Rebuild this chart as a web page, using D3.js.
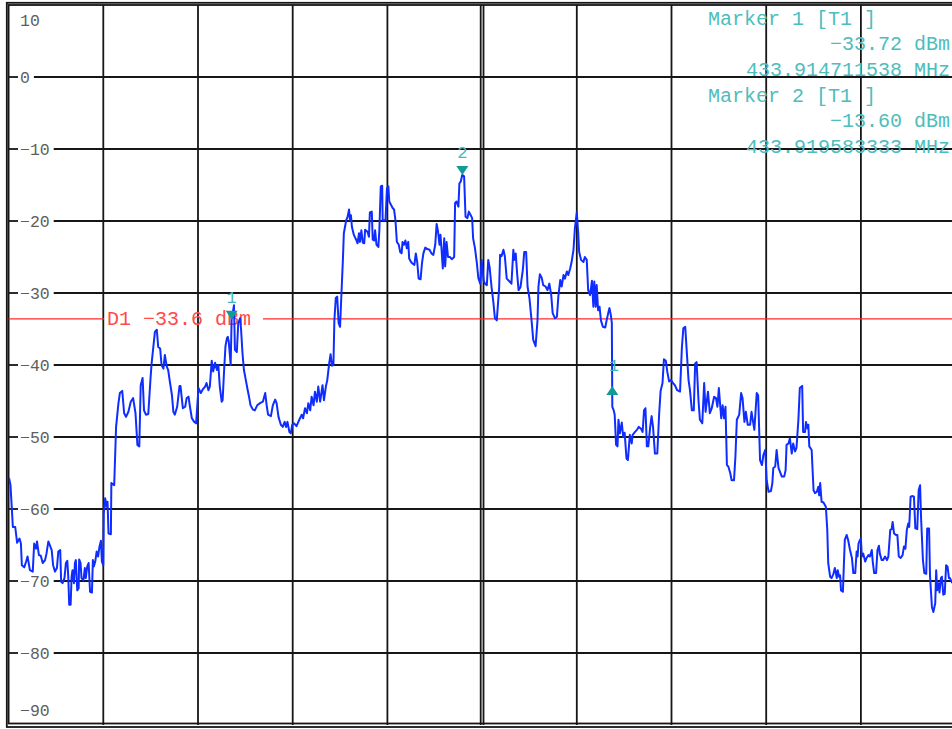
<!DOCTYPE html>
<html>
<head>
<meta charset="utf-8">
<script src="https://cdn.jsdelivr.net/npm/d3@7"></script>
<style>
  html, body { margin: 0; padding: 0; background: #fff; }
  svg { display: block; }
  .grid { stroke: #161616; stroke-width: 1.8; fill: none; }
  .ylabel { font-family: "Liberation Mono", monospace; font-size: 16.5px; fill: #5e5e5e; }
  .mtext { font-family: "Liberation Mono", monospace; font-size: 20px; fill: #4dbdbd; }
  .mnum { font-family: "Liberation Mono", monospace; font-size: 17px; fill: #45b8b8; }
  .dline { stroke: #ff2a2a; stroke-width: 1.4; }
  .dtext { font-family: "Liberation Mono", monospace; font-size: 20px; fill: #ff4a4a; }
  .trace { fill: none; stroke: #0f2dff; stroke-width: 2; stroke-linejoin: round; }
</style>
</head>
<body>
<div id="chart"></div>
<script>
// sweep: 433.910 MHz .. 433.930 MHz, frequencies below are kHz above start
const startMHz = 433.91;
const spanKHz = [0, 20];
const levelRange = [-90, 10];
const xGridKHz = [2, 4, 6, 8, 12, 14, 16, 18];
const centerKHz = 10;
const yTickValues = [10, 0, -10, -20, -30, -40, -50, -60, -70, -80, -90];

const freqKHz = [
  0.01, 0.04, 0.09, 0.14, 0.18, 0.23, 0.26, 0.28, 0.33, 0.37, 0.40, 0.45, 0.51, 0.54, 0.58, 0.60,
  0.64, 0.68, 0.72, 0.77, 0.80, 0.84, 0.87, 0.91, 0.94, 0.98, 1.02, 1.05, 1.09, 1.11, 1.14, 1.18,
  1.21, 1.24, 1.26, 1.28, 1.31, 1.33, 1.35, 1.38, 1.40, 1.42, 1.45, 1.48, 1.49, 1.52, 1.54, 1.58,
  1.61, 1.63, 1.66, 1.69, 1.72, 1.76, 1.78, 1.80, 1.83, 1.86, 1.89, 1.92, 1.95, 1.97, 2.00, 2.01,
  2.04, 2.07, 2.09, 2.11, 2.16, 2.17, 2.23, 2.27, 2.32, 2.35, 2.40, 2.44, 2.48, 2.53, 2.58, 2.63,
  2.68, 2.72, 2.76, 2.79, 2.83, 2.86, 2.90, 2.95, 3.00, 3.02, 3.09, 3.13, 3.16, 3.20, 3.23, 3.27,
  3.30, 3.34, 3.37, 3.41, 3.45, 3.48, 3.51, 3.56, 3.61, 3.63, 3.68, 3.73, 3.76, 3.80, 3.83, 3.87,
  3.92, 3.96, 4.01, 4.06, 4.10, 4.15, 4.18, 4.22, 4.25, 4.29, 4.32, 4.36, 4.40, 4.43, 4.46, 4.50,
  4.52, 4.55, 4.58, 4.61, 4.63, 4.65, 4.69, 4.71, 4.76, 4.78, 4.82, 4.85, 4.89, 4.91, 4.94, 4.97,
  5.01, 5.05, 5.08, 5.11, 5.16, 5.20, 5.25, 5.31, 5.37, 5.42, 5.45, 5.48, 5.54, 5.58, 5.63, 5.66,
  5.70, 5.75, 5.79, 5.83, 5.86, 5.89, 5.93, 5.96, 5.99, 6.03, 6.08, 6.14, 6.19, 6.22, 6.26, 6.30,
  6.33, 6.37, 6.40, 6.44, 6.47, 6.51, 6.54, 6.58, 6.63, 6.66, 6.70, 6.73, 6.77, 6.80, 6.83, 6.86,
  6.88, 6.91, 6.94, 6.97, 7.00, 7.03, 7.06, 7.08, 7.13, 7.16, 7.19, 7.21, 7.23, 7.25, 7.29, 7.34,
  7.37, 7.40, 7.42, 7.45, 7.48, 7.51, 7.53, 7.58, 7.61, 7.63, 7.67, 7.69, 7.72, 7.74, 7.77, 7.81,
  7.83, 7.86, 7.89, 7.90, 7.93, 7.96, 7.99, 8.02, 8.04, 8.08, 8.11, 8.14, 8.17, 8.20, 8.24, 8.27,
  8.30, 8.32, 8.35, 8.38, 8.41, 8.44, 8.46, 8.50, 8.53, 8.57, 8.60, 8.63, 8.66, 8.70, 8.73, 8.76,
  8.80, 8.84, 8.89, 8.93, 8.97, 9.01, 9.04, 9.07, 9.10, 9.12, 9.14, 9.17, 9.20, 9.22, 9.25, 9.28,
  9.32, 9.36, 9.41, 9.43, 9.46, 9.50, 9.52, 9.55, 9.58, 9.62, 9.65, 9.69, 9.72, 9.76, 9.79, 9.81,
  9.85, 9.89, 9.92, 9.96, 9.99, 10.03, 10.06, 10.10, 10.13, 10.16, 10.20, 10.24, 10.27, 10.31, 10.36, 10.38,
  10.41, 10.45, 10.48, 10.52, 10.58, 10.62, 10.66, 10.68, 10.71, 10.74, 10.77, 10.81, 10.86, 10.89, 10.93, 10.96,
  11.00, 11.05, 11.08, 11.13, 11.17, 11.19, 11.22, 11.26, 11.29, 11.34, 11.38, 11.42, 11.46, 11.49, 11.54, 11.58,
  11.61, 11.65, 11.68, 11.72, 11.75, 11.79, 11.82, 11.86, 11.89, 11.93, 11.96, 12.00, 12.03, 12.05, 12.09, 12.14,
  12.17, 12.21, 12.24, 12.28, 12.32, 12.35, 12.37, 12.40, 12.42, 12.45, 12.48, 12.51, 12.55, 12.60, 12.63, 12.67,
  12.69, 12.72, 12.74, 12.75, 12.78, 12.80, 12.83, 12.86, 12.88, 12.91, 12.95, 12.98, 13.01, 13.05, 13.08, 13.12,
  13.16, 13.18, 13.23, 13.27, 13.31, 13.36, 13.39, 13.42, 13.45, 13.48, 13.51, 13.55, 13.58, 13.61, 13.65, 13.70,
  13.74, 13.77, 13.81, 13.84, 13.88, 13.91, 13.95, 13.99, 14.03, 14.07, 14.12, 14.18, 14.22, 14.25, 14.29, 14.32,
  14.36, 14.39, 14.43, 14.47, 14.50, 14.53, 14.57, 14.60, 14.65, 14.69, 14.72, 14.77, 14.81, 14.85, 14.90, 14.94,
  14.97, 15.00, 15.05, 15.08, 15.11, 15.14, 15.17, 15.20, 15.24, 15.27, 15.32, 15.35, 15.38, 15.43, 15.47, 15.50,
  15.54, 15.57, 15.61, 15.66, 15.69, 15.75, 15.80, 15.83, 15.87, 15.91, 15.94, 15.98, 16.01, 16.05, 16.10, 16.13,
  16.15, 16.19, 16.22, 16.26, 16.29, 16.33, 16.38, 16.41, 16.43, 16.47, 16.50, 16.54, 16.57, 16.61, 16.64, 16.68,
  16.71, 16.76, 16.78, 16.82, 16.84, 16.87, 16.89, 16.91, 16.96, 17.00, 17.03, 17.07, 17.10, 17.12, 17.14, 17.17,
  17.21, 17.26, 17.29, 17.31, 17.35, 17.38, 17.42, 17.45, 17.49, 17.51, 17.54, 17.56, 17.58, 17.62, 17.63, 17.66,
  17.70, 17.73, 17.77, 17.81, 17.84, 17.88, 17.91, 17.93, 17.95, 17.98, 18.00, 18.02, 18.05, 18.09, 18.12, 18.16,
  18.19, 18.23, 18.25, 18.28, 18.32, 18.35, 18.38, 18.40, 18.44, 18.47, 18.51, 18.55, 18.58, 18.62, 18.65, 18.67,
  18.70, 18.74, 18.77, 18.80, 18.84, 18.88, 18.91, 18.94, 18.97, 19.00, 19.02, 19.05, 19.09, 19.12, 19.15, 19.19,
  19.22, 19.25, 19.27, 19.31, 19.34, 19.38, 19.40, 19.44, 19.46, 19.50, 19.53, 19.57, 19.59, 19.61, 19.64, 19.66,
  19.69, 19.71, 19.74, 19.77, 19.80, 19.83, 19.86, 19.88, 19.93
];

const levelDbm = [
  -55.7, -56.7, -62.5, -62.5, -64.7, -64.1, -64.8, -67.8, -68.1, -67.3, -66.6, -68.5, -68.7, -64.8, -65.5, -64.5,
  -66.4, -66.5, -67.5, -67.1, -66.2, -64.5, -65.0, -65.7, -67.8, -68.7, -68.2, -65.9, -65.7, -70.1, -70.3, -69.6,
  -67.5, -67.2, -69.4, -73.3, -73.3, -69.4, -68.5, -70.3, -67.5, -67.1, -71.3, -71.0, -67.0, -67.5, -69.6, -69.9,
  -68.2, -69.6, -68.0, -67.5, -71.5, -71.6, -67.1, -68.0, -67.3, -65.9, -66.6, -65.2, -64.4, -67.3, -67.8, -60.6,
  -58.5, -59.7, -59.0, -63.4, -63.5, -56.4, -56.7, -48.6, -45.3, -43.9, -43.6, -46.7, -47.2, -46.5, -45.1, -44.6,
  -46.7, -51.1, -51.3, -42.8, -41.8, -46.3, -46.9, -46.8, -41.6, -39.8, -35.4, -35.1, -37.5, -37.7, -40.0, -40.5,
  -38.6, -40.2, -40.7, -42.5, -44.2, -46.5, -46.9, -45.8, -42.9, -42.9, -46.0, -45.8, -44.6, -44.4, -45.8, -47.4,
  -47.9, -48.1, -43.2, -43.9, -43.4, -43.0, -42.5, -43.5, -43.0, -39.4, -40.9, -39.7, -40.7, -40.0, -43.0, -45.1,
  -44.9, -40.9, -37.4, -36.3, -36.1, -36.8, -40.0, -33.7, -31.7, -37.9, -38.2, -34.2, -33.5, -35.1, -38.4, -40.7,
  -42.1, -43.5, -44.5, -45.6, -46.2, -46.3, -45.6, -45.3, -45.1, -43.9, -45.6, -46.9, -47.1, -45.6, -44.8, -45.3,
  -47.2, -48.3, -48.6, -47.9, -48.6, -47.9, -49.3, -49.5, -48.3, -48.1, -48.5, -47.6, -46.9, -47.4, -46.0, -46.7,
  -45.3, -46.3, -44.4, -45.6, -43.7, -45.1, -43.0, -45.1, -42.8, -44.9, -43.0, -42.1, -39.8, -38.5, -40.1, -40.0,
  -33.8, -30.7, -30.5, -34.2, -34.7, -30.0, -25.4, -21.7, -19.9, -19.4, -18.4, -19.9, -19.2, -20.8, -21.9, -22.6,
  -23.1, -21.7, -22.9, -21.3, -23.0, -23.1, -21.2, -21.5, -22.2, -18.8, -18.7, -22.6, -22.7, -21.3, -23.3, -23.6,
  -21.3, -15.2, -15.1, -19.9, -19.9, -19.9, -15.5, -15.2, -17.3, -17.8, -18.2, -18.4, -19.9, -22.9, -23.3, -24.3,
  -24.5, -22.9, -23.3, -22.7, -23.8, -22.9, -25.2, -25.7, -25.9, -26.1, -24.5, -25.7, -28.0, -28.1, -25.9, -24.5,
  -23.7, -23.9, -24.0, -24.5, -24.7, -23.3, -20.4, -21.5, -23.3, -21.9, -23.6, -26.6, -22.4, -26.3, -22.9, -25.0,
  -25.0, -25.3, -25.0, -17.5, -17.3, -18.0, -14.8, -14.5, -13.6, -13.8, -19.4, -19.6, -18.7, -19.2, -19.6, -22.4,
  -23.8, -25.9, -27.9, -28.7, -25.4, -28.2, -28.7, -28.9, -25.4, -26.5, -29.2, -31.4, -33.5, -33.8, -29.3, -24.7,
  -24.9, -24.0, -24.9, -28.0, -28.4, -28.7, -24.0, -25.4, -24.5, -27.3, -29.6, -29.2, -26.8, -24.3, -24.3, -29.1,
  -30.7, -34.2, -36.5, -37.4, -33.8, -29.1, -27.4, -27.9, -28.9, -29.1, -29.6, -28.7, -30.3, -32.8, -33.5, -33.3,
  -30.5, -28.2, -29.1, -27.5, -28.0, -27.0, -27.5, -26.6, -25.7, -24.0, -21.0, -18.8, -21.7, -24.3, -25.4, -25.7,
  -25.0, -25.4, -29.6, -30.3, -28.3, -31.9, -28.4, -31.9, -28.9, -32.4, -31.9, -33.8, -34.7, -34.8, -33.8, -32.6,
  -32.1, -33.1, -34.2, -45.8, -46.3, -46.9, -51.1, -51.3, -47.6, -49.5, -48.0, -50.0, -49.4, -53.0, -53.2, -49.7,
  -50.9, -49.7, -49.3, -49.0, -48.6, -48.9, -49.3, -46.3, -46.0, -51.3, -51.3, -48.6, -47.1, -48.6, -52.3, -52.3,
  -46.7, -43.6, -42.5, -39.2, -39.4, -40.9, -42.3, -42.1, -42.5, -42.8, -43.5, -43.7, -37.5, -34.9, -34.7, -37.9,
  -42.1, -43.5, -46.3, -46.3, -39.8, -39.6, -44.9, -47.6, -48.1, -42.5, -46.5, -43.7, -46.7, -46.0, -44.4, -44.6,
  -45.8, -43.2, -47.4, -45.6, -47.4, -45.8, -53.9, -54.1, -55.0, -56.0, -56.0, -52.7, -47.6, -46.9, -43.9, -44.6,
  -47.9, -46.5, -48.3, -48.3, -46.5, -49.0, -43.9, -44.2, -53.2, -53.9, -52.5, -51.8, -56.0, -57.6, -57.5, -56.4,
  -54.3, -54.1, -51.8, -54.3, -54.8, -55.5, -55.5, -54.6, -51.1, -50.9, -50.2, -52.3, -50.9, -52.0, -51.5, -47.6,
  -43.2, -42.9, -49.3, -49.3, -47.9, -48.8, -48.3, -51.3, -51.8, -57.4, -57.8, -57.6, -56.9, -58.1, -56.4, -59.0,
  -59.1, -59.7, -62.9, -67.5, -69.4, -69.6, -69.0, -68.2, -69.6, -68.5, -69.4, -69.2, -71.3, -71.5, -69.6, -64.3,
  -63.6, -64.3, -65.7, -66.8, -68.9, -68.9, -65.9, -66.6, -64.8, -64.3, -64.1, -66.6, -66.2, -67.3, -66.8, -66.4,
  -66.6, -65.7, -67.3, -68.9, -68.9, -65.7, -65.1, -66.2, -67.1, -67.1, -66.6, -67.1, -66.6, -62.9, -62.8, -61.8,
  -63.4, -63.6, -63.6, -66.6, -66.8, -66.4, -65.2, -65.5, -62.9, -62.0, -62.5, -58.3, -58.2, -58.3, -62.7, -62.8,
  -57.4, -56.7, -61.1, -67.1, -68.9, -69.0, -62.7, -62.7, -69.4, -73.6, -74.3, -73.1, -68.5, -71.3, -70.3, -71.6,
  -69.6, -69.4, -71.9, -71.8, -67.8, -68.0, -69.6, -69.6, -70.3
];

// marker readouts
const markerNames = ["Marker 1 [T1 ]", "Marker 2 [T1 ]"];
const markerLabels = ["1", "2"];
const markerKHz = [4.711538, 9.583333];
const markerLevels = [-33.72, -13.60];
// second marker symbol (pointing up) on the falling edge
const upMarkerLabels = ["1"];
const upMarkerKHz = [12.75];
const upMarkerLevels = [-42.9];
// display line
const displayLineName = "D1";
const displayLineLevel = -33.6;

function renderChart() {
  let total_width = 952;
  let total_height = 729;
  let plot = {left: 8.6, top: 5, right: 955.6, bottom: 725};

  let x = d3.scaleLinear().domain(spanKHz).range([plot.left, plot.right]);
  let y = d3.scaleLinear().domain(levelRange).range([plot.bottom, plot.top]);

  let svg = d3.select("#chart").append("svg")
      .attr("width", total_width)
      .attr("height", total_height);

  svg.append("defs").append("clipPath").attr("id", "plotclip")
    .append("rect")
      .attr("x", plot.left).attr("y", plot.top)
      .attr("width", plot.right - plot.left).attr("height", plot.bottom - plot.top);

  // vertical grid
  svg.append("g").selectAll("line").data(xGridKHz).enter().append("line")
      .attr("class", "grid")
      .attr("x1", d => x(d)).attr("x2", d => x(d))
      .attr("y1", plot.top).attr("y2", plot.bottom);
  // centre line is drawn doubled
  [-1.4, 1.4].forEach(o => {
    svg.append("line").attr("class", "grid")
      .attr("x1", x(centerKHz) + o).attr("x2", x(centerKHz) + o)
      .attr("y1", plot.top).attr("y2", plot.bottom);
  });

  // level labels, grid lines are broken around them
  let fmt = d3.format("d");
  let labelX = 20;
  let labels = svg.append("g").selectAll("text").data(yTickValues).enter().append("text")
      .attr("class", "ylabel")
      .attr("x", labelX)
      .attr("y", d => d === levelRange[1] ? y(d) + 21 : (d === levelRange[0] ? y(d) - 9 : y(d) + 5.5))
      .text(d => fmt(d));

  let hGrid = svg.append("g");
  labels.each(function(d) {
    if (d === levelRange[0] || d === levelRange[1]) return;
    let w = this.getComputedTextLength();
    hGrid.append("line").attr("class", "grid")
      .attr("x1", plot.left).attr("x2", labelX - 2)
      .attr("y1", y(d)).attr("y2", y(d));
    hGrid.append("line").attr("class", "grid")
      .attr("x1", labelX + w + 4).attr("x2", plot.right)
      .attr("y1", y(d)).attr("y2", y(d));
  });

  // frame: inner plot border plus outer border
  svg.append("rect").attr("class", "grid")
      .attr("x", plot.left).attr("y", plot.top)
      .attr("width", plot.right - plot.left).attr("height", plot.bottom - plot.top - 1.5);
  svg.append("rect").attr("class", "grid")
      .attr("x", 6.8).attr("y", 2.8)
      .attr("width", 960).attr("height", 724.2);

  // display line with its text
  let dText = svg.append("text")
      .attr("class", "dtext")
      .attr("x", 107)
      .attr("y", y(displayLineLevel) + 6.5)
      .text(displayLineName + " " + d3.format(".1f")(displayLineLevel) + " dBm");
  let dw = dText.node().getComputedTextLength();
  svg.insert("line", "text.dtext").attr("class", "dline")
      .attr("x1", plot.left).attr("x2", 104)
      .attr("y1", y(displayLineLevel)).attr("y2", y(displayLineLevel));
  svg.insert("line", "text.dtext").attr("class", "dline")
      .attr("x1", 107 + dw + 12).attr("x2", plot.right)
      .attr("y1", y(displayLineLevel)).attr("y2", y(displayLineLevel));

  // trace
  let traceData = freqKHz.map((f, i) => ({f: f, l: levelDbm[i]}));
  let line = d3.line().x(d => x(d.f)).y(d => y(d.l));
  svg.append("path")
      .datum(traceData)
      .attr("class", "trace")
      .attr("clip-path", "url(#plotclip)")
      .attr("d", line);

  // marker symbols
  let mg = svg.append("g");
  markerKHz.forEach((f, i) => {
    let mx = x(f), my = y(markerLevels[i]);
    mg.append("path")
      .attr("d", "M" + (mx - 6) + "," + (my - 9) + "L" + (mx + 6) + "," + (my - 9) + "L" + mx + "," + my + "Z")
      .attr("fill", "#129a96");
    mg.append("text").attr("class", "mnum")
      .attr("x", mx).attr("y", my - 16.5)
      .attr("text-anchor", "middle")
      .text(markerLabels[i]);
  });
  upMarkerKHz.forEach((f, i) => {
    let mx = x(f), my = y(upMarkerLevels[i]);
    mg.append("path")
      .attr("d", "M" + mx + "," + my + "L" + (mx + 6) + "," + (my + 9) + "L" + (mx - 6) + "," + (my + 9) + "Z")
      .attr("fill", "#129a96");
    mg.append("text").attr("class", "mnum")
      .attr("x", mx + 1.5).attr("y", my - 14.5)
      .attr("text-anchor", "middle")
      .text(upMarkerLabels[i]);
  });

  // marker readout block, top right
  let rg = svg.append("g");
  let rowH = 25.7;
  markerNames.forEach((name, i) => {
    let base = 24.5 + i * 3 * rowH;
    rg.append("text").attr("class", "mtext")
      .attr("x", 708).attr("y", base)
      .text(name);
    rg.append("text").attr("class", "mtext")
      .attr("x", 950).attr("y", base + rowH)
      .attr("text-anchor", "end")
      .text(d3.format(".2f")(markerLevels[i]) + " dBm");
    rg.append("text").attr("class", "mtext")
      .attr("x", 950).attr("y", base + 2 * rowH)
      .attr("text-anchor", "end")
      .text(d3.format(".9f")(startMHz + markerKHz[i] / 1000) + " MHz");
  });
}

renderChart();
</script>
</body>
</html>
